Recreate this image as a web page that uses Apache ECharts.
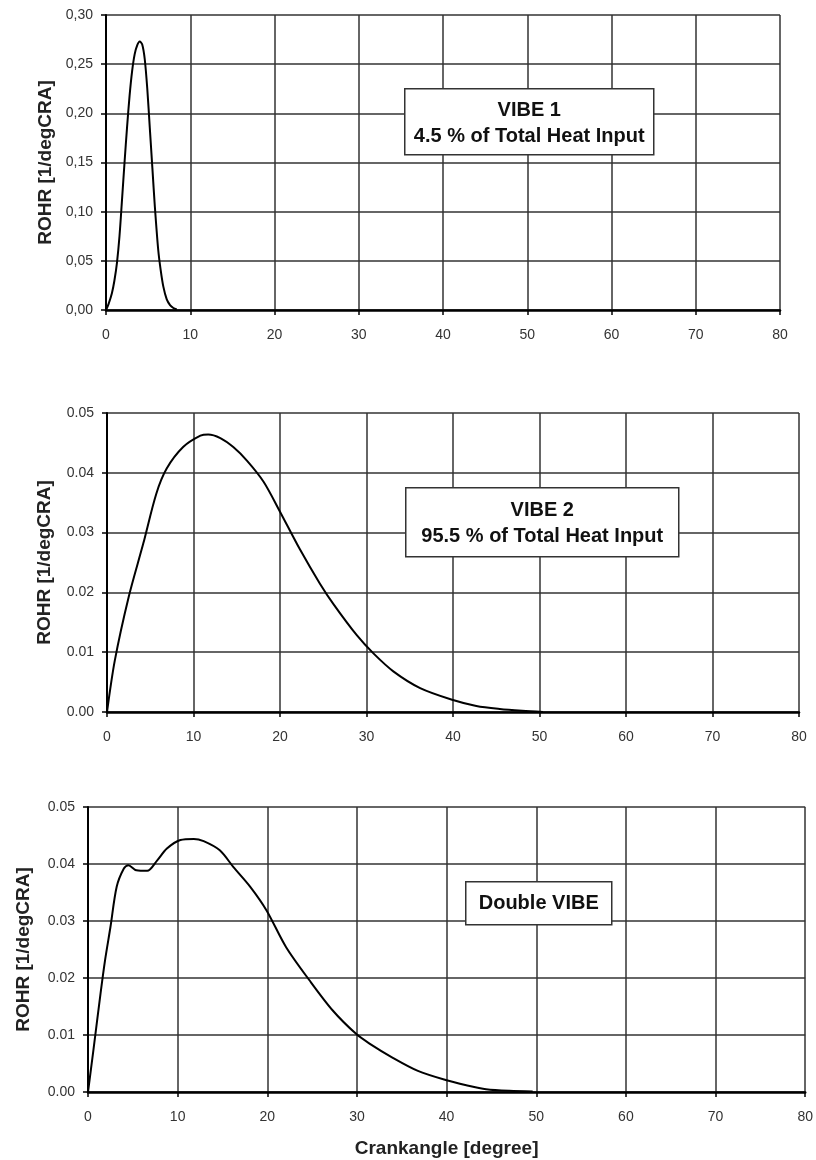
<!DOCTYPE html>
<html>
<head>
<meta charset="utf-8">
<script src="https://cdn.jsdelivr.net/npm/echarts@6/dist/echarts.min.js"></script>
<style>
  html, body { margin: 0; padding: 0; background: #fff; }
  #chart { width: 816px; height: 1160px; }
</style>
</head>
<body>
<div id="chart"></div>
<script>
// x ticks shared by all three panels
const angleTicks = [0, 10, 20, 30, 40, 50, 60, 70, 80];

// VIBE 1 (4.5 % of heat input)
const vibe1Angle = [0, 0.3, 0.7, 1.0, 1.3, 1.6, 1.9, 2.2, 2.5, 2.8, 3.1, 3.4, 3.7, 4.0, 4.3, 4.6, 4.9, 5.2, 5.5, 5.8, 6.2, 6.5, 6.8, 7.2, 7.6, 8.0, 8.4];
const vibe1Rohr  = [0, 0.006, 0.017, 0.030, 0.048, 0.075, 0.112, 0.150, 0.186, 0.218, 0.243, 0.260, 0.269, 0.273, 0.270, 0.255, 0.225, 0.185, 0.145, 0.105, 0.061, 0.040, 0.024, 0.011, 0.005, 0.002, 0.0005];

// VIBE 2 (95.5 % of heat input)
const vibe2Angle = [0, 0.9, 2.5, 4.2, 5.7, 6.9, 8.8, 10.8, 11.7, 13.1, 14.6, 16.2, 18.1, 20.0, 22.3, 24.6, 26.2, 28.9, 30.8, 33.1, 36.2, 40.0, 42.7, 45.4, 48.0, 50.4];
const vibe2Rohr  = [0, 0.0086, 0.0192, 0.0282, 0.0365, 0.0407, 0.0443, 0.0462, 0.0464, 0.0458, 0.0443, 0.0420, 0.0385, 0.0335, 0.0272, 0.0215, 0.0180, 0.0128, 0.0098, 0.0068, 0.0040, 0.0020, 0.0010, 0.0005, 0.0002, 0];

// Double VIBE (sum)
const doubleAngle = [0, 0.6, 1.4, 1.9, 2.5, 3.2, 4.0, 4.5, 5.4, 6.6, 7.7, 8.8, 10.3, 11.8, 12.9, 14.7, 16.2, 18.1, 19.9, 22.1, 24.7, 27.3, 29.9, 31.4, 34.0, 36.8, 39.9, 42.2, 44.4, 47.0, 49.6];
const doubleRohr  = [0, 0.0073, 0.0173, 0.0231, 0.0289, 0.0360, 0.0392, 0.0398, 0.0389, 0.0388, 0.0406, 0.0427, 0.0442, 0.0444, 0.0440, 0.0424, 0.0395, 0.0360, 0.0319, 0.0254, 0.0196, 0.0143, 0.0102, 0.0085, 0.0060, 0.0037, 0.0021, 0.0012, 0.0005, 0.0002, 0.0001];

const pairs = (xs, ys) => xs.map((x, i) => [x, ys[i]]);

const font = 'Liberation Sans, Arial, sans-serif';
const gridLine = { show: true, lineStyle: { color: '#333', width: 1.5 } };
const nameStyle = { fontFamily: font, fontSize: 19, fontWeight: 'bold', color: '#222' };

const xAxisOf = (idx, name) => ({
  type: 'value',
  gridIndex: idx,
  min: angleTicks[0],
  max: angleTicks[angleTicks.length - 1],
  interval: 10,
  name: name || '',
  nameLocation: 'middle',
  nameGap: 47,
  nameTextStyle: nameStyle,
  axisLine: { show: true, onZero: false, lineStyle: { color: '#000', width: 2.5 } },
  axisTick: { show: true, length: 5, lineStyle: { color: '#000', width: 1.5 } },
  axisLabel: { margin: 18, fontFamily: font, fontSize: 14, color: '#333' },
  splitLine: gridLine
});

const yAxisOf = (idx, max, interval, fmt, gap) => ({
  type: 'value',
  gridIndex: idx,
  min: 0,
  max: max,
  interval: interval,
  name: 'ROHR [1/degCRA]',
  nameLocation: 'middle',
  nameRotate: 90,
  nameGap: gap,
  nameTextStyle: nameStyle,
  axisLine: { show: true, lineStyle: { color: '#000', width: 2 } },
  axisTick: { show: true, length: 5, lineStyle: { color: '#000', width: 1.5 } },
  axisLabel: { margin: 13, fontFamily: font, fontSize: 14, color: '#333', formatter: fmt },
  splitLine: gridLine
});

const lineSeries = (idx, data) => ({
  type: 'line',
  xAxisIndex: idx,
  yAxisIndex: idx,
  data: data,
  smooth: 0.3,
  showSymbol: false,
  lineStyle: { color: '#000', width: 2 },
  z: 5
});

// text box drawn over the plot; dy nudges the text block
const labelBox = (left, top, w, h, text, dy) => ({
  type: 'group',
  left: left,
  top: top,
  z: 100,
  children: [
    { type: 'rect', z: 100, shape: { x: 0, y: 0, width: w, height: h },
      style: { fill: '#fff', stroke: '#333', lineWidth: 1.5 } },
    { type: 'text', z: 101, x: w / 2, y: h / 2 + (dy || 0),
      style: { text: text, fill: '#111', font: 'bold 20px ' + font,
               align: 'center', verticalAlign: 'middle', lineHeight: 26 } }
  ]
});

const chart = echarts.init(document.getElementById('chart'));
chart.setOption({
  animation: false,
  backgroundColor: '#fff',
  grid: [
    { left: 106, top: 15, width: 674, height: 295 },
    { left: 107, top: 413, width: 692, height: 299 },
    { left: 88, top: 807, width: 719, height: 285 }
  ],
  xAxis: [
    xAxisOf(0),
    xAxisOf(1),
    xAxisOf(2, 'Crankangle [degree]')
  ],
  yAxis: [
    yAxisOf(0, 0.30, 0.05, v => v.toFixed(2).replace('.', ','), 51),
    yAxisOf(1, 0.05, 0.01, v => v.toFixed(2), 53),
    yAxisOf(2, 0.05, 0.01, v => v.toFixed(2), 55)
  ],
  series: [
    lineSeries(0, pairs(vibe1Angle, vibe1Rohr)),
    lineSeries(1, pairs(vibe2Angle, vibe2Rohr)),
    lineSeries(2, pairs(doubleAngle, doubleRohr))
  ],
  graphic: [
    labelBox(404, 88, 249, 66, 'VIBE 1\n4.5 % of Total Heat Input', 2),
    labelBox(405, 487, 273, 69, 'VIBE 2\n95.5 % of Total Heat Input', 1),
    labelBox(465, 881, 146, 43, 'Double VIBE', 0)
  ]
});
</script>
</body>
</html>
